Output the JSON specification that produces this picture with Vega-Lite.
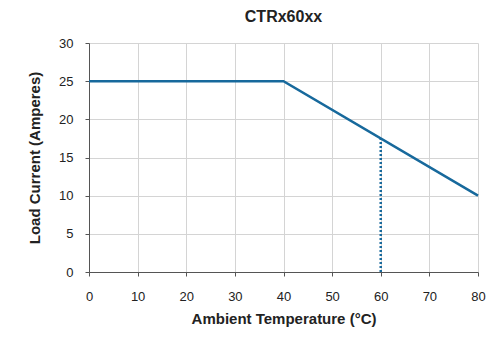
{
  "$schema": "https://vega.github.io/schema/vega-lite/v6.json",
  "width": 389,
  "height": 229,
  "autosize": {"type": "none"},
  "padding": {"left": 89, "top": 43, "right": 9, "bottom": 65},
  "background": "white",
  "title": {"text": "CTRx60xx", "font": "Liberation Sans", "fontSize": 16, "fontWeight": "bold", "color": "#222222", "offset": 12, "anchor": "middle"},
  "config": {
    "view": {"stroke": null},
    "axis": {"labelFont": "Liberation Sans", "labelFontSize": 13, "labelColor": "#222222", "titleFont": "Liberation Sans", "titleFontSize": 15, "titleFontWeight": "bold", "titleColor": "#222222", "gridColor": "#d4d4d4", "gridWidth": 1, "domainColor": "#555555", "tickColor": "#555555", "tickSize": 4, "labelOverlap": false, "labelFlush": false}
  },
  "datasets": {
    "curve": [
      {"temp": 0, "current": 25},
      {"temp": 40, "current": 25},
      {"temp": 80, "current": 10}
    ],
    "marker": [
      {"temp": 60, "current": 0},
      {"temp": 60, "current": 17.5}
    ]
  },
  "encoding": {
    "x": {"field": "temp", "type": "quantitative", "scale": {"domain": [0, 80], "nice": false}, "axis": {"values": [0,10,20,30,40,50,60,70,80], "title": "Ambient Temperature (°C)", "labelPadding": 14, "titlePadding": 8}},
    "y": {"field": "current", "type": "quantitative", "scale": {"domain": [0, 30], "nice": false}, "axis": {"values": [0,5,10,15,20,25,30], "title": "Load Current (Amperes)", "labelPadding": 12, "titlePadding": 16}}
  },
  "layer": [
    {
      "data": {"name": "curve"},
      "mark": {"type": "line", "color": "#17699c", "strokeWidth": 2.5}
    },
    {
      "data": {"name": "marker"},
      "mark": {"type": "line", "color": "#17699c", "strokeWidth": 2.5, "strokeDash": [2, 2]}
    }
  ]
}
